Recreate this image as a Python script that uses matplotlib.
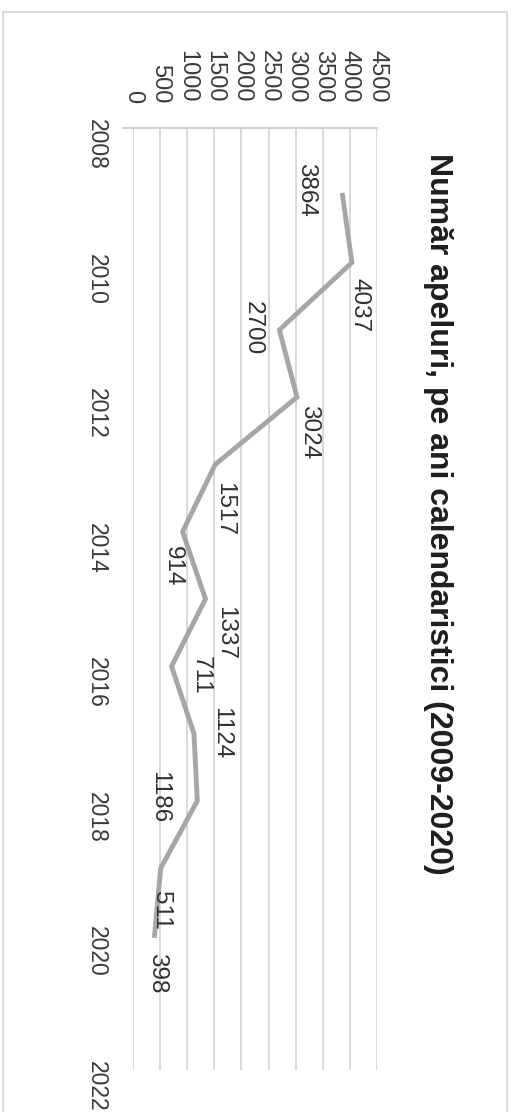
import matplotlib
matplotlib.use("Agg")
import matplotlib.pyplot as plt
from matplotlib.patches import Rectangle
from matplotlib.lines import Line2D

# ---- data ----
years = [2009, 2010, 2011, 2012, 2013, 2014, 2015, 2016, 2017, 2018, 2019, 2020]
calls = [3864, 4037, 2700, 3024, 1517, 914, 1337, 711, 1124, 1186, 511, 398]
value_ticks = [0, 500, 1000, 1500, 2000, 2500, 3000, 3500, 4000, 4500]
year_ticks = [2008, 2010, 2012, 2014, 2016, 2018, 2020, 2022]
title = "Număr apeluri, pe ani calendaristici (2009-2020)"

# label offsets (pixels, in the rotated view: dx right, dy down) - style only
label_offsets = [(-36, -5), (8, 42), (-27, -2), (12, 35), (9, 45), (-10, 35),
                 (20, 34), (29, 9), (27, 0), (-38, -4), (0, 42), (2, 38)]

W, H = 522, 1112
dpi = 100
fig = plt.figure(figsize=(W / dpi, H / dpi), dpi=dpi)
fig.patch.set_facecolor("white")

# frame of the scanned chart area
fig.add_artist(Rectangle((3 / W, -0.01), (507 - 3) / W, (H - 12) / H + 0.01,
                         transform=fig.transFigure, fill=False,
                         edgecolor="#d4d4d4", linewidth=1.2))

left_px, right_px = 133, 377
top_px, bot_px = 128, 1070
ax = fig.add_axes([left_px / W, (H - bot_px) / H,
                   (right_px - left_px) / W, (bot_px - top_px) / H])

ax.plot(calls, years, color="#a6a6a6", linewidth=3.5, solid_joinstyle="miter",
        zorder=3)

ax.set_xlim(0, 4500)
ax.set_ylim(2022, 2008)
ax.set_xticks(value_ticks)
ax.set_yticks(year_ticks)
ax.xaxis.tick_top()
ax.set_xticklabels([str(v) for v in value_ticks], rotation=-90,
                   fontsize=17, family="Liberation Sans", color="#3a3a3a")
ax.set_yticklabels([str(y) for y in year_ticks], rotation=-90,
                   fontsize=16.5, family="Liberation Sans", color="#3a3a3a")
ax.tick_params(axis="x", length=0, pad=18)
ax.tick_params(axis="y", length=0, pad=18)

ax.grid(axis="x", color="#d8d8d8", linewidth=1.4)
ax.set_axisbelow(True)
for s in ["right", "bottom", "left", "top"]:
    ax.spines[s].set_visible(False)
# value-axis line (top), extending slightly past the zero line
fig.add_artist(Line2D([123 / W, right_px / W], [(H - top_px) / H] * 2,
                      transform=fig.transFigure, color="#d0d0d0", linewidth=1.4))

for yr, v, (dx, dy) in zip(years, calls, label_offsets):
    ax.annotate(str(v), xy=(v, yr), xytext=(dx, -dy), textcoords="offset pixels",
                rotation=-90, ha="center", va="center", fontsize=17.5,
                family="Liberation Sans", color="#303030", zorder=4)

fig.text(438 / W, (H - 514) / H, title, rotation=-90, ha="center", va="center",
         fontsize=23, fontweight="bold", family="Liberation Sans", color="#1e1e1e")

fig.savefig("out.png", dpi=dpi, facecolor="white")
